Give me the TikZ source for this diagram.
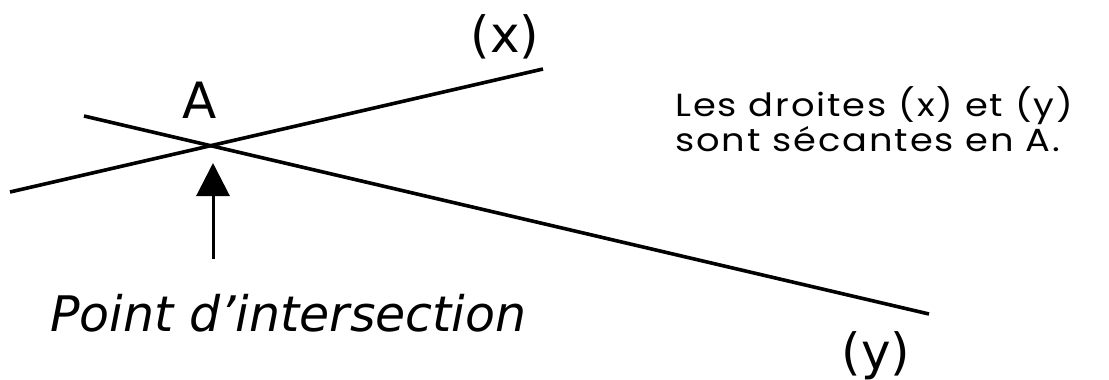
\documentclass[tikz,border=0pt]{standalone}
\usepackage{fontspec}
\setmainfont{DejaVu Sans}
\newfontfamily\handfont[FakeStretch=1.15,LetterSpace=6]{Poppins}
\usetikzlibrary{arrows.meta}
\begin{document}
\begin{tikzpicture}[x=1pt,y=-1pt,
  geo/.style={line width=3.6pt},
  lbl/.style={inner sep=0pt, font=\fontsize{50}{50}\selectfont},
  pointer/.style={line width=3pt, -{Triangle[width=33pt,length=33pt]}}]
\useasboundingbox (0,0) rectangle (1109,380);
\coordinate (x1) at (10,192);
\coordinate (x2) at (543,69);
\coordinate (y1) at (84,116);
\coordinate (y2) at (929,314);
\draw[geo] (x1) -- (x2);
\draw[geo] (y1) -- (y2);
\node[lbl] (A) at (200,100) {A};
\node[lbl] (lx) at (505,36.5) {(x)};
\node[lbl] (ly) at (876,355.5) {(y)};
\coordinate (tail) at (213,259);
\coordinate (tip) at (213,163);
\draw[pointer] (tail) -- (tip);
\node[anchor=base west, inner sep=0pt, font=\itshape\fontsize{49}{49}\selectfont] (pi) at (50,331) {Point d’intersection};
\node[anchor=north west, inner sep=0pt, align=left, font=\handfont\fontsize{32}{35}\selectfont] (txt) at (675,86) {Les droites (x) et (y)\\sont sécantes en A.};
\end{tikzpicture}
\end{document}
